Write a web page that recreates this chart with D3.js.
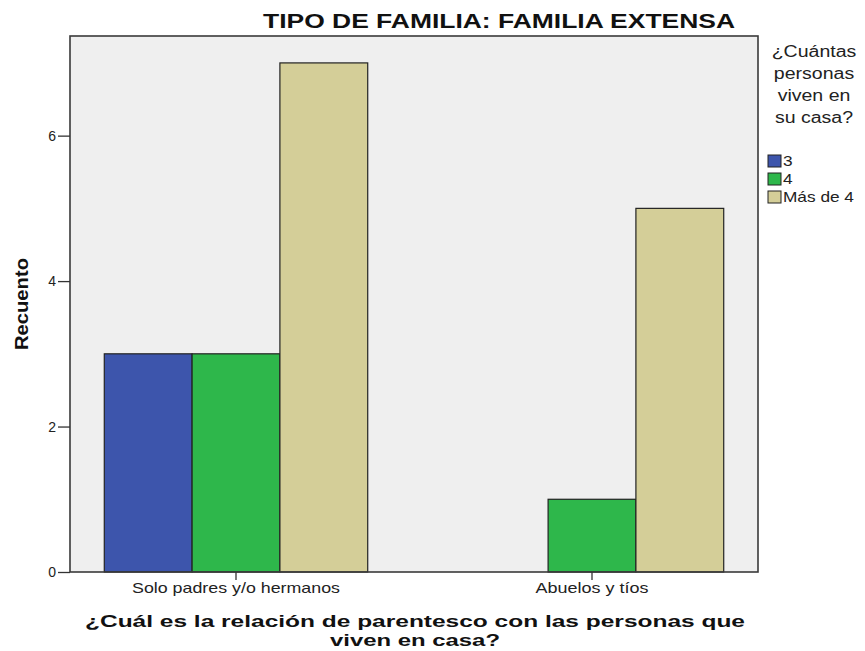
<!DOCTYPE html>
<html><head><meta charset="utf-8">
<script src="https://cdn.jsdelivr.net/npm/d3@7"></script>
<style>body{margin:0;background:#fff}svg{display:block;font-family:"Liberation Sans",Arial,sans-serif}</style>
</head><body><svg id="c" width="865" height="651"></svg>
<script>
const categories = ["Solo padres y/o hermanos", "Abuelos y tíos"];
const seriesNames = ["3", "4", "Más de 4"];
const values3 = [3, 0];
const values4 = [3, 1];
const valuesMas4 = [7, 5];
const yTicks = [0, 2, 4, 6];
const colors = ["#3d55ac", "#2eb74b", "#d4ce98"];
const legendTitle = ["¿Cuántas", "personas", "viven en", "su casa?"];
const xTitle = ["¿Cuál es la relación de parentesco con las personas que", "viven en casa?"];

const svg = d3.select("#c");
const L = 70, R = 758, T = 36, B = 572;
const series = [values3, values4, valuesMas4];

svg.append("rect").attr("x", L).attr("y", T).attr("width", R - L).attr("height", B - T)
  .attr("fill", "#efefef");

const y = d3.scaleLinear().domain([0, 7.37]).range([B, T]);
const x0 = d3.scaleBand().domain(categories).range([L - 12, R + 12]);
const groupW = x0.bandwidth() * 0.74;
const x1 = d3.scaleBand().domain(seriesNames).range([0, groupW]);

const data = [];
categories.forEach((c, i) => seriesNames.forEach((s, j) => data.push({c, s, j, v: series[j][i]})));

svg.append("g").selectAll("rect").data(data.filter(d => d.v > 0)).join("rect")
  .attr("x", d => x0(d.c) + (x0.bandwidth() - groupW) / 2 + x1(d.s))
  .attr("width", x1.bandwidth())
  .attr("y", d => y(d.v))
  .attr("height", d => y(0) - y(d.v))
  .attr("fill", d => colors[d.j])
  .attr("stroke", "#222").attr("stroke-width", 1.2);

// frame
svg.append("rect").attr("x", L).attr("y", T).attr("width", R - L).attr("height", B - T)
  .attr("fill", "none").attr("stroke", "#3a3a3a").attr("stroke-width", 1.6);

// y axis
const yAxis = svg.append("g").attr("transform", `translate(${L},0)`)
  .call(d3.axisLeft(y).tickValues(yTicks).tickSize(12).tickPadding(2).tickFormat(d3.format("d")));
yAxis.select(".domain").remove();
yAxis.selectAll("line").attr("stroke", "#333").attr("stroke-width", 1.3);
yAxis.selectAll("text").attr("font-size", 14).attr("fill", "#222")
  .attr("font-family", "'Liberation Sans', Arial, sans-serif");

// x axis
const xAxis = svg.append("g").attr("transform", `translate(0,${B})`)
  .call(d3.axisBottom(x0).tickSize(8).tickPadding(10));
xAxis.select(".domain").remove();
xAxis.selectAll("line").attr("stroke", "#333").attr("stroke-width", 1.3);
xAxis.selectAll("text").attr("font-size", 15).attr("fill", "#222").attr("dy", "0.2em")
  .attr("font-family", "'Liberation Sans', Arial, sans-serif")
  .attr("textLength", (d, i) => [208, 113][i]).attr("lengthAdjust", "spacingAndGlyphs");

// title
svg.append("text").attr("x", 499).attr("y", 28).attr("text-anchor", "middle")
  .attr("font-size", 21).attr("font-weight", "bold").attr("fill", "#111")
  .attr("textLength", 472).attr("lengthAdjust", "spacingAndGlyphs")
  .text("TIPO DE FAMILIA: FAMILIA EXTENSA");

// y title
svg.append("text").attr("transform", "translate(28,304) rotate(-90)").attr("text-anchor", "middle")
  .attr("font-size", 18).attr("font-weight", "bold").attr("fill", "#111")
  .attr("textLength", 92).attr("lengthAdjust", "spacingAndGlyphs").text("Recuento");

// x title
xTitle.forEach((t, i) => {
  svg.append("text").attr("x", 415).attr("y", 627 + i * 19).attr("text-anchor", "middle")
    .attr("font-size", 17).attr("font-weight", "bold").attr("fill", "#111")
    .attr("textLength", [660, 170][i]).attr("lengthAdjust", "spacingAndGlyphs").text(t);
});

// legend
legendTitle.forEach((t, i) => {
  const tx = svg.append("text").attr("x", 814).attr("y", 57 + i * 22).attr("text-anchor", "middle")
    .attr("font-size", 16).attr("fill", "#222").text(t);
  const w = tx.node().getComputedTextLength();
  tx.attr("textLength", w * 1.22).attr("lengthAdjust", "spacingAndGlyphs");
});
const lg = svg.append("g").selectAll("g").data(seriesNames).join("g")
  .attr("transform", (d, i) => `translate(768,${155 + i * 18})`);
lg.append("rect").attr("width", 13).attr("height", 12)
  .attr("fill", (d, i) => colors[i]).attr("stroke", "#222").attr("stroke-width", 1);
lg.append("text").attr("x", 15).attr("y", 11).attr("font-size", 15).attr("fill", "#222")
  .text(d => d).each(function () {
    const w = this.getComputedTextLength();
    d3.select(this).attr("textLength", w * 1.15).attr("lengthAdjust", "spacingAndGlyphs");
  });
</script></body></html>
